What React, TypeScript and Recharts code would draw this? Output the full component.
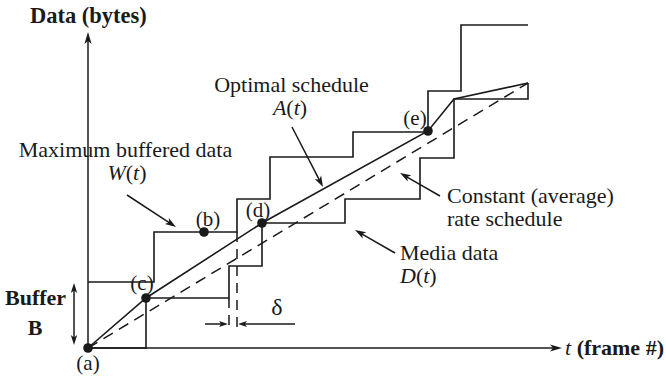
import { ComposedChart, Line, Scatter, XAxis, YAxis, ReferenceLine, ReferenceDot } from "recharts";

const FONT = "'Liberation Serif', 'Times New Roman', Times, serif";
const INK = "#1a1a1a";

// Media data D(t): frame where each step begins, cumulative bytes (x10)
const mediaFrames = [0, 5.8, 14.1, 17.4, 25.7, 33.2, 36.6, 44.0];
const mediaBytes = [0, 5.0, 8.2, 12.5, 14.9, 19.0, 24.9, 26.5];

// Maximum buffered data W(t)
const bufferFrames = [0, 6.6, 14.9, 18.2, 26.5, 34.0, 37.3, 44.0];
const bufferBytes = [6.6, 11.6, 14.9, 19.1, 21.6, 25.7, 32.3, 32.3];

// Optimal schedule A(t) (piecewise linear)
const optimalFrames = [0, 5.8, 17.4, 34.0, 36.6, 44.0];
const optimalBytes = [0, 5.0, 12.5, 21.7, 24.9, 26.5];

// Constant (average) rate schedule
const averageFrames = [0, 44.0];
const averageBytes = [0, 26.5];

// Marked points (a)..(e)
const pointNames = ["(a)", "(c)", "(b)", "(d)", "(e)"];
const pointFrames = [0, 5.8, 11.6, 17.4, 34.0];
const pointBytes = [0, 5.0, 11.6, 12.5, 21.7];

const toRows = (xs: number[], ys: number[]) => xs.map((t, i) => ({ t, v: ys[i] }));

const media = toRows(mediaFrames, mediaBytes);
const buffer = toRows(bufferFrames, bufferBytes);
const optimal = toRows(optimalFrames, optimalBytes);
const average = toRows(averageFrames, averageBytes);
const points = toRows(pointFrames, pointBytes);

function arrowShape(both = false, len = 11, half = 3.6) {
  return (p: any) => {
    const { x1, y1, x2, y2 } = p;
    const head = (tx: number, ty: number, fx: number, fy: number) => {
      const a = Math.atan2(ty - fy, tx - fx);
      const c = Math.cos(a);
      const s = Math.sin(a);
      const bx = tx - len * c;
      const by = ty - len * s;
      const nx = tx - len * 0.75 * c;
      const ny = ty - len * 0.75 * s;
      return (
        <polygon
          points={`${tx},${ty} ${bx - half * s},${by + half * c} ${nx},${ny} ${bx + half * s},${by - half * c}`}
          fill={INK}
        />
      );
    };
    const a = Math.atan2(y2 - y1, x2 - x1);
    const ex = x2 - len * 0.7 * Math.cos(a);
    const ey = y2 - len * 0.7 * Math.sin(a);
    const sx = both ? x1 + len * 0.7 * Math.cos(a) : x1;
    const sy = both ? y1 + len * 0.7 * Math.sin(a) : y1;
    return (
      <g>
        <line x1={sx} y1={sy} x2={ex} y2={ey} stroke={INK} strokeWidth={1.5} />
        {head(x2, y2, x1, y1)}
        {both && head(x1, y1, x2, y2)}
      </g>
    );
  };
}

function arrow(key: string, from: [number, number], to: [number, number], both = false, len = 11, half = 3.6) {
  return (
    <ReferenceLine
      key={key}
      segment={[
        { x: from[0], y: from[1] },
        { x: to[0], y: to[1] },
      ]}
      ifOverflow="visible"
      shape={arrowShape(both, len, half)}
    />
  );
}

function rule(key: string, from: [number, number], to: [number, number], dash?: string) {
  return (
    <ReferenceLine
      key={key}
      segment={[
        { x: from[0], y: from[1] },
        { x: to[0], y: to[1] },
      ]}
      ifOverflow="visible"
      stroke={INK}
      strokeWidth={1.5}
      strokeDasharray={dash}
    />
  );
}

function note(
  key: string,
  x: number,
  y: number,
  content: React.ReactNode,
  anchor: "start" | "middle" | "end" = "start",
  size = 22,
  bold = false
) {
  return (
    <ReferenceDot
      key={key}
      x={x}
      y={y}
      r={0}
      ifOverflow="visible"
      shape={(p: any) => (
        <text
          x={p.cx}
          y={p.cy}
          textAnchor={anchor}
          fontFamily={FONT}
          fontSize={size}
          fontWeight={bold ? 700 : 400}
          fill={INK}
        >
          {content}
        </text>
      )}
    />
  );
}

const it = (s: string) => <tspan fontStyle="italic">{s}</tspan>;

export default function App() {
  return (
    <div style={{ position: "absolute", left: 0, top: 0, width: 666, height: 379, background: "#fff" }}>
      <ComposedChart width={666} height={379} margin={{ top: 0, right: 0, bottom: 0, left: 0 }}>
        <XAxis type="number" dataKey="t" domain={[-8.8, 57.8]} allowDataOverflow hide />
        <YAxis type="number" dataKey="v" domain={[-3.1, 34.8]} allowDataOverflow hide />

        {/* axes */}
        {arrow("yaxis", [0, 0], [0, 31.6], false, 12, 3.6)}
        {arrow("xaxis", [0, 0], [47.4, 0], false, 12, 3.6)}

        <Line data={average} dataKey="v" type="linear" stroke={INK} strokeWidth={1.5} strokeDasharray="11 7" dot={false} activeDot={false} isAnimationActive={false} />
        <Line data={media} dataKey="v" type="stepAfter" stroke={INK} strokeWidth={1.6} dot={false} activeDot={false} isAnimationActive={false} />
        <Line data={buffer} dataKey="v" type="stepAfter" stroke={INK} strokeWidth={1.6} dot={false} activeDot={false} isAnimationActive={false} />
        <Line data={optimal} dataKey="v" type="linear" stroke={INK} strokeWidth={1.6} dot={false} activeDot={false} isAnimationActive={false} />

        {/* delta guides */}
        {rule("d1", [14.1, 5.0], [14.1, 1.6], "10 7")}
        {rule("d2", [14.9, 11.6], [14.9, 1.6], "10 7")}
        {arrow("dl", [11.7, 2.4], [14.0, 2.4], false, 9, 3)}
        {arrow("dr", [20.7, 2.4], [15.0, 2.4], false, 9, 3)}

        {/* buffer */}
        {arrow("buf", [-1.4, 0.3], [-1.4, 6.5], true, 10, 3.2)}

        {/* label pointers */}
        {arrow("pw", [3.9, 15.3], [8.8, 12.1])}
        {arrow("pa", [20.4, 22.1], [23.5, 16.1])}
        {arrow("pc", [35.2, 15.2], [31.2, 17.5])}
        {arrow("pm", [30.7, 9.5], [26.7, 11.8])}

        <Scatter
          data={points}
          dataKey="v"
          isAnimationActive={false}
          shape={(p: any) => <circle cx={p.cx} cy={p.cy} r={4.8} fill={INK} />}
        />

        {note("ylab", -5.8, 32.5, "Data (bytes)", "start", 22.5, true)}
        {note("xlab", 47.7, -0.7, <>{it("t")} <tspan fontWeight={700}>(frame #)</tspan></>, "start", 22)}
        {note("max1", 3.75, 19.1, "Maximum buffered data", "middle")}
        {note("max2", 3.9, 16.8, <>{it("W")}({it("t")})</>, "middle")}
        {note("opt1", 20.35, 25.6, "Optimal schedule", "middle")}
        {note("opt2", 20.2, 23.3, <>{it("A")}({it("t")})</>, "middle")}
        {note("avg1", 35.9, 14.5, "Constant (average)")}
        {note("avg2", 35.9, 12.2, "rate schedule")}
        {note("med1", 31.2, 8.8, "Media data")}
        {note("med2", 31.2, 6.5, <>{it("D")}({it("t")})</>)}
        {note("buf1", -8.3, 4.3, "Buffer", "start", 22, true)}
        {note("buf2", -5.3, 1.3, "B", "middle", 22, true)}
        {note("delta", 18.9, 3.3, "δ", "middle", 24)}

        {note("pa0", 0, -2.2, pointNames[0], "middle", 21)}
        {note("pc0", 5.4, 5.8, pointNames[1], "middle", 21)}
        {note("pb0", 12.0, 12.2, pointNames[2], "middle", 21)}
        {note("pd0", 17.0, 13.1, pointNames[3], "middle", 21)}
        {note("pe0", 32.7, 22.3, pointNames[4], "middle", 21)}
      </ComposedChart>
    </div>
  );
}
